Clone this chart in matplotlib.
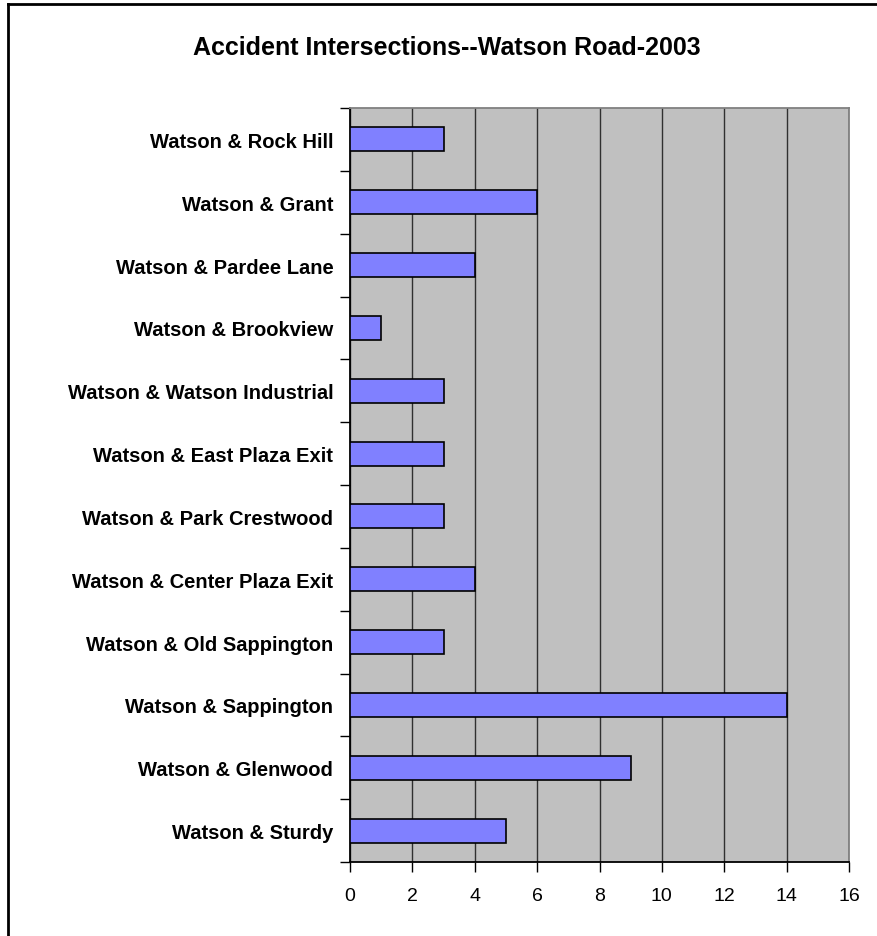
import matplotlib
matplotlib.use("Agg")
import matplotlib.pyplot as plt
import numpy as np
from matplotlib.lines import Line2D

plt.rcParams['font.family'] = ['Liberation Sans', 'DejaVu Sans']

# categories top to bottom as in the picture
places = ["Watson & Rock Hill", "Watson & Grant", "Watson & Pardee Lane",
          "Watson & Brookview", "Watson & Watson Industrial",
          "Watson & East Plaza Exit", "Watson & Park Crestwood",
          "Watson & Center Plaza Exit", "Watson & Old Sappington",
          "Watson & Sappington", "Watson & Glenwood", "Watson & Sturdy"]
accidents = [3, 6, 4, 1, 3, 3, 3, 4, 3, 14, 9, 5]
xticks = [0, 2, 4, 6, 8, 10, 12, 14, 16]

W, H = 878, 937
fig = plt.figure(figsize=(W / 100, H / 100), dpi=100)
ax = fig.add_axes([350 / W, 1 - 863 / H, (849 - 350) / W, (863 - 109) / H])

n = len(places)
ypos = np.arange(n)[::-1]
ax.set_facecolor('#C0C0C0')
ax.barh(ypos, accidents, height=0.38, color='#8080FF', edgecolor='black',
        linewidth=1.2, zorder=3)

ax.set_xlim(0, 16)
ax.set_ylim(-0.5, n - 0.5)
ax.set_xticks(xticks)
ax.set_xticklabels([str(t) for t in xticks], fontsize=14)
ax.xaxis.grid(True, color='#303030', linewidth=1.0, zorder=1)
ax.set_axisbelow(True)

ax.set_yticks(ypos)
ax.set_yticklabels(places, fontsize=14.5, fontweight='bold')
ax.set_yticks(np.arange(-0.5, n, 1.0), minor=True)
ax.tick_params(axis='y', which='major', length=0, pad=12)
ax.tick_params(axis='y', which='minor', length=7, width=1.0, direction='out')
ax.tick_params(axis='x', length=7, width=1.0, direction='out', pad=11)

for s in ['left', 'bottom']:
    ax.spines[s].set_color('black')
    ax.spines[s].set_linewidth(1.3)
for s in ['top', 'right']:
    ax.spines[s].set_color('#808080')
    ax.spines[s].set_linewidth(1.3)

fig.text(447 / W, 1 - 48 / H, "Accident Intersections--Watson Road-2003",
         ha='center', va='center', fontsize=18, fontweight='bold')

# chart area border (only left and top are visible in the crop)
fig.add_artist(Line2D([8 / W, 8 / W], [0, 1 - 5 / H], transform=fig.transFigure,
                      color='black', linewidth=2))
fig.add_artist(Line2D([8 / W, 1], [1 - 5 / H, 1 - 5 / H], transform=fig.transFigure,
                      color='black', linewidth=2))

fig.savefig("out.png", dpi=100)
